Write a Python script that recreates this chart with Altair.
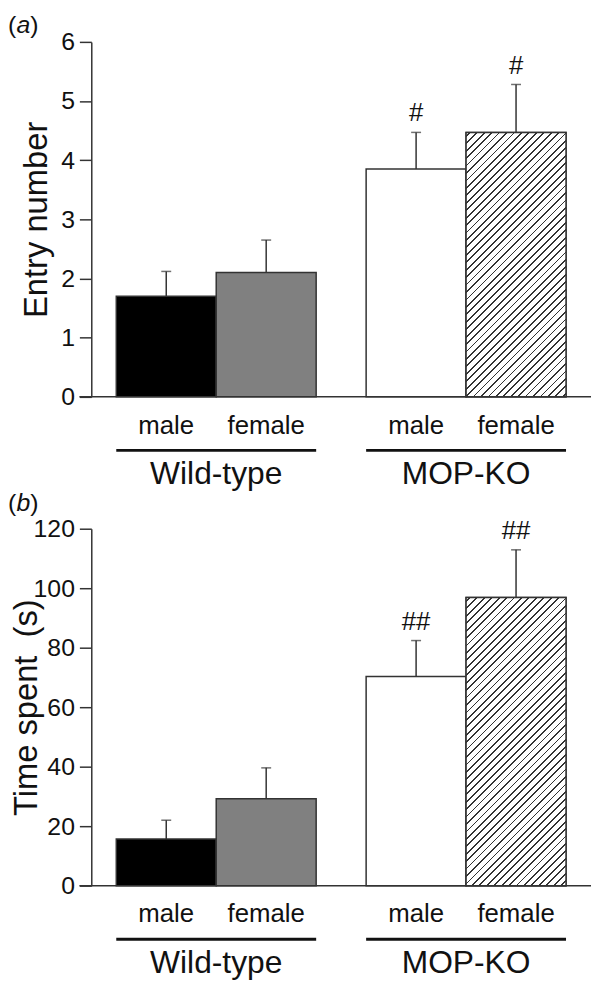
import altair as alt
import pandas as pd

# ---------------- data ----------------
group_order = ["Wild-type", "MOP-KO"]
sex_order = ["male", "female"]
groups = ["Wild-type", "Wild-type", "MOP-KO", "MOP-KO"]
sexes = ["male", "female", "male", "female"]
keys = ["wt_m", "wt_f", "ko_m", "ko_f"]

entry_mean = [1.70, 2.10, 3.85, 4.47]
entry_upper = [2.12, 2.65, 4.47, 5.28]
entry_sig = ["", "", "#", "#"]
entry_ticks = [0, 1, 2, 3, 4, 5, 6]

time_mean = [15.7, 29.2, 70.3, 96.9]
time_upper = [22.0, 39.6, 82.4, 112.9]
time_sig = ["", "", "##", "##"]
time_ticks = [0, 20, 40, 60, 80, 100, 120]

# ---------------- style ----------------
FONT = "Liberation Sans"
INK = "#333333"
TXT = "#111111"
FILLS = ["#000000", "#808080", "#ffffff", "#ffffff"]
W = 504
P_IN, P_OUT = 0.2, 0.1


def hatch_gradient(wb, hb, spacing=7.5, lw=1.8, phase=3.0):
    total = wb + hb
    stops = []
    pos = phase
    while pos < total:
        s = pos / total
        e = min((pos + lw) / total, 1.0)
        stops += [
            alt.GradientStop(offset=s, color="#ffffff"),
            alt.GradientStop(offset=s, color=INK),
            alt.GradientStop(offset=e, color=INK),
            alt.GradientStop(offset=e, color="#ffffff"),
        ]
        pos += spacing
    r = wb / hb
    lam = (r + 1) / (r * r + 1)
    return alt.LinearGradient(gradient="linear", stops=stops,
                              x1=0, y1=0, x2=lam * r, y2=lam)


def panel(mean, upper, sig, ticks, H, ytitle, title_x, letter, letter_y):
    ymax = ticks[-1]
    df = pd.DataFrame({"group": groups, "sex": sexes, "key": keys,
                       "mean": mean, "upper": upper, "sig": sig})
    gdf = pd.DataFrame({"group": group_order})
    one = pd.DataFrame({"k": [0]})

    xenc = alt.X("group:N", sort=group_order,
                 scale=alt.Scale(paddingInner=P_IN, paddingOuter=P_OUT),
                 axis=None)
    xoff = alt.XOffset("sex:N", sort=sex_order,
                       scale=alt.Scale(paddingInner=0, paddingOuter=0))
    yscale = alt.Scale(domain=[0, ymax], nice=False, zero=True)

    base = alt.Chart(df)
    bars = base.mark_bar(stroke=INK, strokeWidth=1.5).encode(
        x=xenc, xOffset=xoff,
        y=alt.Y("mean:Q", scale=yscale,
                axis=alt.Axis(values=ticks, format="d", grid=False,
                              domainColor=INK, domainWidth=1.5,
                              tickColor=INK, tickWidth=1.5, tickSize=12,
                              labelFont=FONT, labelFontSize=25,
                              labelColor=TXT, labelPadding=5,
                              title=ytitle, titleFont=FONT, titleFontSize=33,
                              titleFontWeight="normal", titleColor=TXT,
                              titleAngle=270, titleX=title_x, titleY=H / 2,
                              titleAlign="center", titleBaseline="alphabetic")),
        fill=alt.Fill("key:N", scale=alt.Scale(domain=keys, range=FILLS),
                      legend=None),
    )

    step = W / (len(group_order) - P_IN + 2 * P_OUT)
    wb = step * (1 - P_IN) / 2
    hb = mean[3] / ymax * H
    hatched = base.transform_filter(alt.datum.key == "ko_f").mark_bar(
        stroke=INK, strokeWidth=1.5, fill=hatch_gradient(wb, hb)
    ).encode(x=xenc, xOffset=xoff, y=alt.Y("mean:Q", scale=yscale))

    err = base.mark_rule(color=INK, strokeWidth=1.5).encode(
        x=xenc, xOffset=xoff, y=alt.Y("mean:Q", scale=yscale), y2="upper:Q")
    cap = base.mark_tick(color=INK, thickness=1.5, size=10,
                         orient="horizontal").encode(
        x=xenc, xOffset=xoff, y=alt.Y("upper:Q", scale=yscale))
    sigt = base.mark_text(font=FONT, fontSize=26, baseline="middle", dy=-19,
                          color=TXT).encode(
        x=xenc, xOffset=xoff, y=alt.Y("upper:Q", scale=yscale), text="sig:N")

    sexl = base.mark_text(font=FONT, fontSize=26, baseline="middle",
                          color=TXT).encode(
        x=xenc, xOffset=xoff, y=alt.value(H + 29), text="sex:N")

    gline = alt.Chart(gdf).mark_rect(color="#111111").encode(
        x=xenc, y=alt.value(H + 52.5), y2=alt.value(H + 55.5))
    gtext = alt.Chart(gdf).mark_text(font=FONT, fontSize=32,
                                     baseline="middle", color=TXT).encode(
        x=xenc, y=alt.value(H + 78), text="group:N")

    xline = alt.Chart(one).mark_rule(color=INK, strokeWidth=1.5).encode(
        x=alt.value(-12), x2=alt.value(W), y=alt.value(H))

    lp = alt.Chart(one).mark_text(text="(", font=FONT, fontSize=25,
                                  align="left", color=TXT).encode(
        x=alt.value(-84), y=alt.value(letter_y))
    la = alt.Chart(one).mark_text(text=letter, font=FONT, fontSize=25,
                                  fontStyle="italic", align="left",
                                  color=TXT).encode(
        x=alt.value(-84 + 8.5), y=alt.value(letter_y))
    rp = alt.Chart(one).mark_text(text=")", font=FONT, fontSize=25,
                                  align="left", color=TXT).encode(
        x=alt.value(-84 + 8.5 + 14), y=alt.value(letter_y))

    return alt.layer(bars, hatched, err, cap, sigt, sexl, gline, gtext,
                     xline, lp, la, rp).properties(width=W, height=H)


pa = panel(entry_mean, entry_upper, entry_sig, entry_ticks, 358,
           "Entry number", -45, "a", -17)
pb = panel(time_mean, time_upper, time_sig, time_ticks, 360,
           "Time spent\u00a0 (s)", -55, "b", -26)

chart = alt.vconcat(pa, pb, spacing=133, bounds="flush").properties(
    padding={"left": 0, "top": 1, "right": 0, "bottom": 0}
).configure_view(stroke=None)

chart.save("out.html", embed_options={"renderer": "svg", "actions": False})
